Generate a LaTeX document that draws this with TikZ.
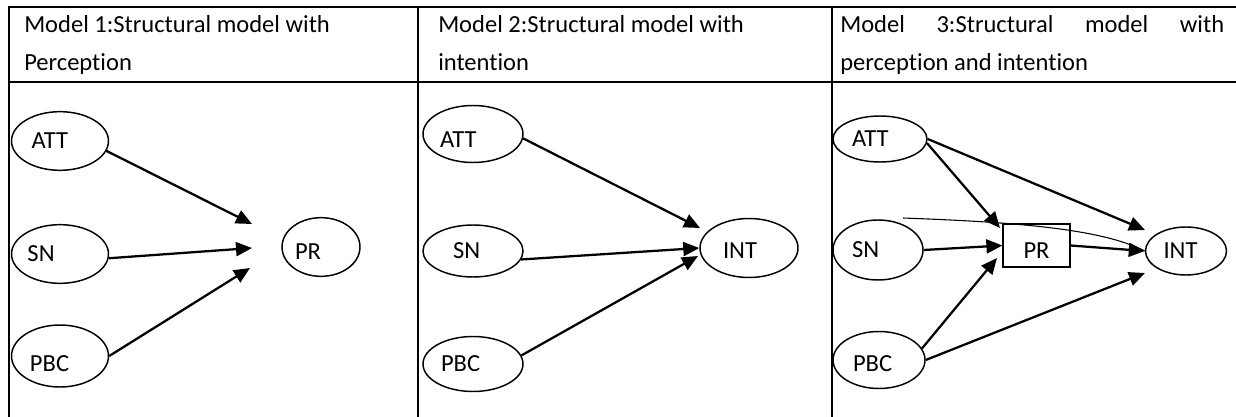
\documentclass[tikz,border=0pt]{standalone}
\usepackage{fontspec}
\setmainfont{Carlito}[Ligatures={NoCommon}]
\usetikzlibrary{arrows.meta,shapes.geometric,positioning}

\begin{document}
\begin{tikzpicture}[
        x=0.75pt, y=-0.75pt,
        every node/.style={font=\fontsize{18.4}{22}\selectfont},
        head/.style={anchor=base west, inner sep=0pt},
        oval/.style={draw, ellipse, line width=1.1pt, minimum width=72.75pt, minimum height=44pt, inner sep=0pt, text width=45pt, align=left},
        box/.style={draw, rectangle, line width=0.9pt, minimum width=50.25pt, minimum height=32.25pt, inner sep=0pt},
        link/.style={line width=1.7pt, -{Triangle[length=12pt, width=10.5pt]}},
        rule/.style={line width=1.5pt}
    ]

    \useasboundingbox (0,0) rectangle (1236,417);

    % table
    \draw[rule] (1236,7) -- (8.5,7) -- (8.5,417);
    \draw[rule] (8.5,82) -- (1236,82);
    \draw[rule] (418,7) -- (418,417);
    \draw[rule] (832,7) -- (832,417);

    \node[head] (h1) at (24,33) {Model 1:Structural model with};
    \node[head] (h1b) at (24,71) {Perception};
    \node[head] (h2) at (438,33) {Model 2:Structural model with};
    \node[head] (h2b) at (438,71) {intention};
    \node[head] (h3) at (840,33) {\makebox[288pt][s]{Model 3:Structural model with}};
    \node[head] (h3b) at (840,71) {perception and intention};

    % model 1
    \node[oval, text width=42.75pt] (att1) at (60,141) {ATT};
    \node[oval, text width=48.75pt] (sn1) at (60,254) {SN};
    \node[oval, minimum height=46.5pt, text height=23.85pt] (pbc1) at (60,356) {PBC};
    \node[oval, minimum width=58.5pt, text width=39pt, text height=18.6pt] (pr1) at (321,247) {PR};
    \coordinate (t1a) at (252,224);
    \coordinate (t1b) at (252,248);
    \coordinate (t1c) at (250,268);
    \draw[link] (att1.-12) -- (t1a);
    \draw[link] (sn1.-5) -- (t1b);
    \draw[link] (pbc1.east) -- (t1c);

    % model 2
    \node[oval, minimum width=75pt, minimum height=42.75pt, text width=49.5pt, text height=20.1pt] (att2) at (473,134) {ATT};
    \node[oval, minimum width=75pt, minimum height=39pt, text width=30pt] (sn2) at (473,251) {SN};
    \node[oval, minimum width=75pt, minimum height=41.25pt, text width=48pt] (pbc2) at (473,364) {PBC};
    \node[oval, minimum width=73.5pt, minimum height=44.25pt, text width=39pt, text height=15.6pt] (int2) at (749,248) {INT};
    \coordinate (t2a) at (700,228);
    \coordinate (t2c) at (698,256);
    \draw[link] (att2.-5) -- (t2a);
    \draw[link] (sn2.-10) -- (int2.west);
    \draw[link] (pbc2.10) -- (t2c);

    % model 3
    \node[oval, minimum width=70.5pt, minimum height=34.5pt, text width=42pt] (att3) at (880,139) {ATT};
    \node[oval, minimum width=67.5pt, minimum height=45pt, text width=39pt] (sn3) at (878,250) {SN};
    \node[oval, minimum width=69pt, minimum height=42.75pt, text width=39pt, text height=17.1pt] (pbc3) at (879,360) {PBC};
    \node[box, text height=19.35pt] (pr3) at (1036.5,245.5) {PR};
    \node[oval, minimum width=60.75pt, minimum height=36pt, text width=33.75pt] (int3) at (1186,251) {INT};
    \coordinate (t3a) at (1000,228);
    \coordinate (t3b) at (1145,230);
    \coordinate (t3c) at (997,258);
    \coordinate (t3d) at (1145,273);
    \coordinate (c3) at (903,218);
    \draw[link] (att3.-5) -- (t3a);
    \draw[link] (att3.east) -- (t3b);
    \draw[link] (sn3.east) -- (pr3.west);
    \draw[link] (pr3.east) -- (int3.west);
    \draw[link] (pbc3.15) -- (t3c);
    \draw[link] (pbc3.east) -- (t3d);
    \draw[line width=0.8pt] (c3) .. controls (1010,222) and (1100,228) .. (int3.west);
\end{tikzpicture}
\end{document}
